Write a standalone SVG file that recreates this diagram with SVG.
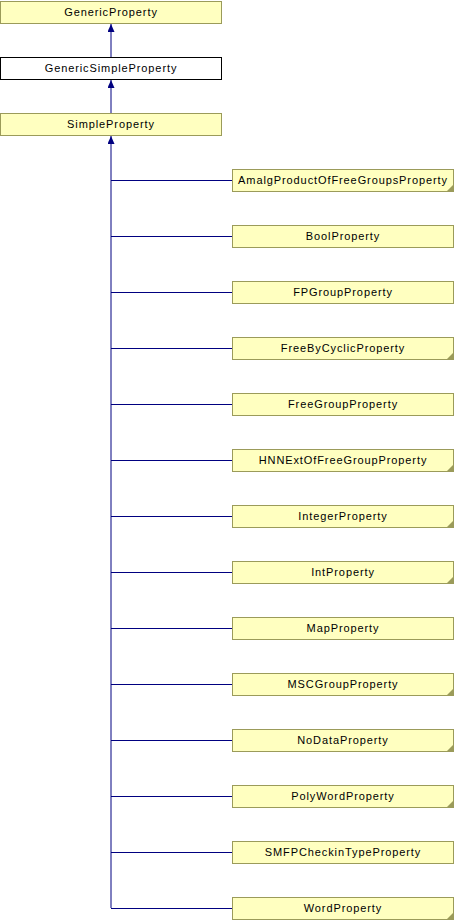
<svg xmlns="http://www.w3.org/2000/svg" width="454" height="920" viewBox="0 0 454 920">
<style>
.n rect{fill:#ffffc0;stroke:#9b9b5a;stroke-width:1}
.n rect.w{fill:#ffffff;stroke:#000000}
.n text{font-family:"Liberation Sans",Arial,sans-serif;font-size:11px;letter-spacing:0.9px;text-anchor:middle;fill:#000}
.n polygon{fill:#9b9b5a}
#edges path{stroke:#000080;stroke-width:1;fill:none}
</style>
<defs>
<marker id="ah" markerWidth="8" markerHeight="7" refX="8" refY="3.5" orient="auto" markerUnits="userSpaceOnUse" viewBox="0 0 8 7">
<path d="M0,0 L8,3.5 L0,7 Z" fill="#000080" stroke="none"/>
</marker>
</defs>
<rect width="454" height="920" fill="#ffffff"/>
<g id="edges">
<path d="M111,57 V24" marker-end="url(#ah)"/>
<path d="M111,113 V80" marker-end="url(#ah)"/>
<path d="M111,908 V136" marker-end="url(#ah)"/>
<path d="M111,180.5 H232"/>
<path d="M111,236.5 H232"/>
<path d="M111,292.5 H232"/>
<path d="M111,348.5 H232"/>
<path d="M111,404.5 H232"/>
<path d="M111,460.5 H232"/>
<path d="M111,516.5 H232"/>
<path d="M111,572.5 H232"/>
<path d="M111,628.5 H232"/>
<path d="M111,684.5 H232"/>
<path d="M111,740.5 H232"/>
<path d="M111,796.5 H232"/>
<path d="M111,852.5 H232"/>
<path d="M111,908.5 H232"/>
</g>
<g id="GenericProperty" class="n"><rect x="0.5" y="1.5" width="221" height="22"/><text x="111" y="16">GenericProperty</text></g>
<g id="GenericSimpleProperty" class="n"><rect class="w" x="0.5" y="57.5" width="221" height="22"/><text x="111" y="72">GenericSimpleProperty</text></g>
<g id="SimpleProperty" class="n"><rect x="0.5" y="113.5" width="221" height="22"/><text x="111" y="128">SimpleProperty</text></g>
<g id="AmalgProductOfFreeGroupsProperty" class="n"><rect x="232.5" y="169.5" width="221" height="22"/><polygon points="453,185 453,191 447,191"/><text x="343" y="184">AmalgProductOfFreeGroupsProperty</text></g>
<g id="BoolProperty" class="n"><rect x="232.5" y="225.5" width="221" height="22"/><text x="343" y="240">BoolProperty</text></g>
<g id="FPGroupProperty" class="n"><rect x="232.5" y="281.5" width="221" height="22"/><text x="343" y="296">FPGroupProperty</text></g>
<g id="FreeByCyclicProperty" class="n"><rect x="232.5" y="337.5" width="221" height="22"/><polygon points="453,353 453,359 447,359"/><text x="343" y="352">FreeByCyclicProperty</text></g>
<g id="FreeGroupProperty" class="n"><rect x="232.5" y="393.5" width="221" height="22"/><text x="343" y="408">FreeGroupProperty</text></g>
<g id="HNNExtOfFreeGroupProperty" class="n"><rect x="232.5" y="449.5" width="221" height="22"/><polygon points="453,465 453,471 447,471"/><text x="343" y="464">HNNExtOfFreeGroupProperty</text></g>
<g id="IntegerProperty" class="n"><rect x="232.5" y="505.5" width="221" height="22"/><polygon points="453,521 453,527 447,527"/><text x="343" y="520">IntegerProperty</text></g>
<g id="IntProperty" class="n"><rect x="232.5" y="561.5" width="221" height="22"/><polygon points="453,577 453,583 447,583"/><text x="343" y="576">IntProperty</text></g>
<g id="MapProperty" class="n"><rect x="232.5" y="617.5" width="221" height="22"/><text x="343" y="632">MapProperty</text></g>
<g id="MSCGroupProperty" class="n"><rect x="232.5" y="673.5" width="221" height="22"/><polygon points="453,689 453,695 447,695"/><text x="343" y="688">MSCGroupProperty</text></g>
<g id="NoDataProperty" class="n"><rect x="232.5" y="729.5" width="221" height="22"/><polygon points="453,745 453,751 447,751"/><text x="343" y="744">NoDataProperty</text></g>
<g id="PolyWordProperty" class="n"><rect x="232.5" y="785.5" width="221" height="22"/><polygon points="453,801 453,807 447,807"/><text x="343" y="800">PolyWordProperty</text></g>
<g id="SMFPCheckinTypeProperty" class="n"><rect x="232.5" y="841.5" width="221" height="22"/><text x="343" y="856">SMFPCheckinTypeProperty</text></g>
<g id="WordProperty" class="n"><rect x="232.5" y="897.5" width="221" height="22"/><polygon points="453,913 453,919 447,919"/><text x="343" y="912">WordProperty</text></g>
</svg>
